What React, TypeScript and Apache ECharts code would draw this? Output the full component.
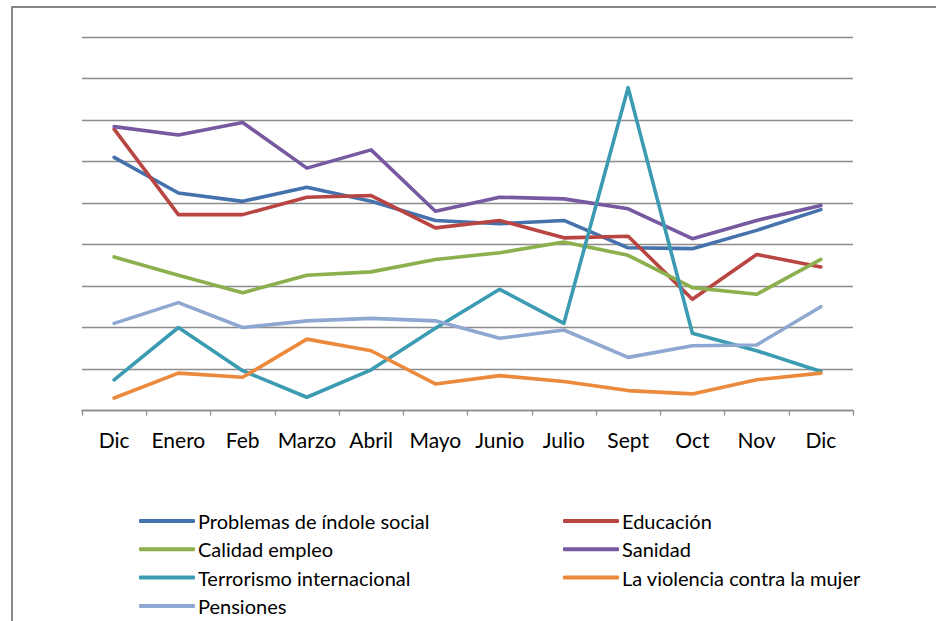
import React, { useEffect, useRef } from "react";
import * as echarts from "echarts";

const categories = ["Dic", "Enero", "Feb", "Marzo", "Abril", "Mayo", "Junio", "Julio", "Sept", "Oct", "Nov", "Dic"];

const problemasSocial = [30.5, 26.2, 25.2, 26.9, 25.2, 22.9, 22.5, 22.9, 19.6, 19.5, 21.7, 24.2];
const educacion = [33.9, 23.6, 23.6, 25.7, 25.9, 22.0, 22.9, 20.8, 21.0, 13.4, 18.8, 17.3];
const calidadEmpleo = [18.5, 16.3, 14.2, 16.3, 16.7, 18.2, 19.0, 20.3, 18.7, 14.8, 14.0, 18.2];
const sanidad = [34.2, 33.2, 34.7, 29.2, 31.4, 24.0, 25.7, 25.5, 24.3, 20.7, 22.9, 24.7];
const terrorismo = [3.7, 10.0, 4.8, 1.6, 4.9, 9.9, 14.6, 10.5, 38.9, 9.3, 7.2, 4.7];
const violenciaMujer = [1.5, 4.5, 4.0, 8.6, 7.2, 3.2, 4.2, 3.5, 2.4, 2.0, 3.7, 4.5];
const pensiones = [10.5, 13.0, 10.0, 10.8, 11.1, 10.8, 8.7, 9.7, 6.4, 7.8, 7.9, 12.5];

const seriesNames = [
  "Problemas de índole social",
  "Educación",
  "Calidad empleo",
  "Sanidad",
  "Terrorismo internacional",
  "La violencia contra la mujer",
  "Pensiones",
];
const seriesData = [problemasSocial, educacion, calidadEmpleo, sanidad, terrorismo, violenciaMujer, pensiones];
const seriesColors = ["#4572AC", "#B84541", "#8CB04E", "#7659A0", "#3A9BB2", "#EB8A3C", "#8FA8D2"];

const leftLegend = ["Problemas de índole social", "Calidad empleo", "Terrorismo internacional", "Pensiones"];
const rightLegend = ["Educación", "Sanidad", "La violencia contra la mujer"];

export default function App() {
  const ref = useRef<HTMLDivElement>(null);

  useEffect(() => {
    document.body.style.margin = "0";
    const chart = echarts.init(ref.current!, undefined, { renderer: "svg" });
    const font = "Lato, 'Noto Sans', sans-serif";
    const legendCommon = {
      orient: "vertical",
      icon: "roundRect",
      itemWidth: 56,
      itemHeight: 4,
      itemGap: 8.3,
      padding: 0,
      textStyle: { fontFamily: font, fontSize: 20, color: "#000", lineHeight: 20, padding: [0, 0, 0, -2] },
    };
    chart.setOption({
      animation: false,
      backgroundColor: "#fff",
      graphic: [
        {
          type: "rect",
          shape: { x: 12, y: 7, width: 1000, height: 1000 },
          style: { fill: "none", stroke: "#878787", lineWidth: 2 },
          silent: true,
        },
      ],
      legend: [
        { ...legendCommon, left: 139, top: 511, data: leftLegend },
        { ...legendCommon, left: 563, top: 511, data: rightLegend },
      ],
      grid: { left: 82, right: 83, top: 37, bottom: 210.5 },
      xAxis: {
        type: "category",
        data: categories,
        boundaryGap: true,
        axisLine: { lineStyle: { color: "#8C8C8C", width: 1.3 } },
        axisTick: { show: true, length: 5, lineStyle: { color: "#8C8C8C", width: 1.3 } },
        axisLabel: { fontFamily: font, fontSize: 21, color: "#000", margin: 18, interval: 0 },
      },
      yAxis: {
        type: "value",
        min: 0,
        max: 45,
        interval: 5,
        axisLine: { show: false },
        axisTick: { show: false },
        axisLabel: { show: false },
        splitLine: { lineStyle: { color: "#8C8C8C", width: 1.3 } },
      },
      series: seriesNames.map((name, i) => ({
        name,
        type: "line",
        data: seriesData[i],
        showSymbol: false,
        symbol: "none",
        color: seriesColors[i],
        lineStyle: { width: 3.6, color: seriesColors[i], cap: "round", join: "round" },
        itemStyle: { color: seriesColors[i] },
      })),
    });
    return () => chart.dispose();
  }, []);

  return <div ref={ref} style={{ width: 936, height: 621 }} />;
}
